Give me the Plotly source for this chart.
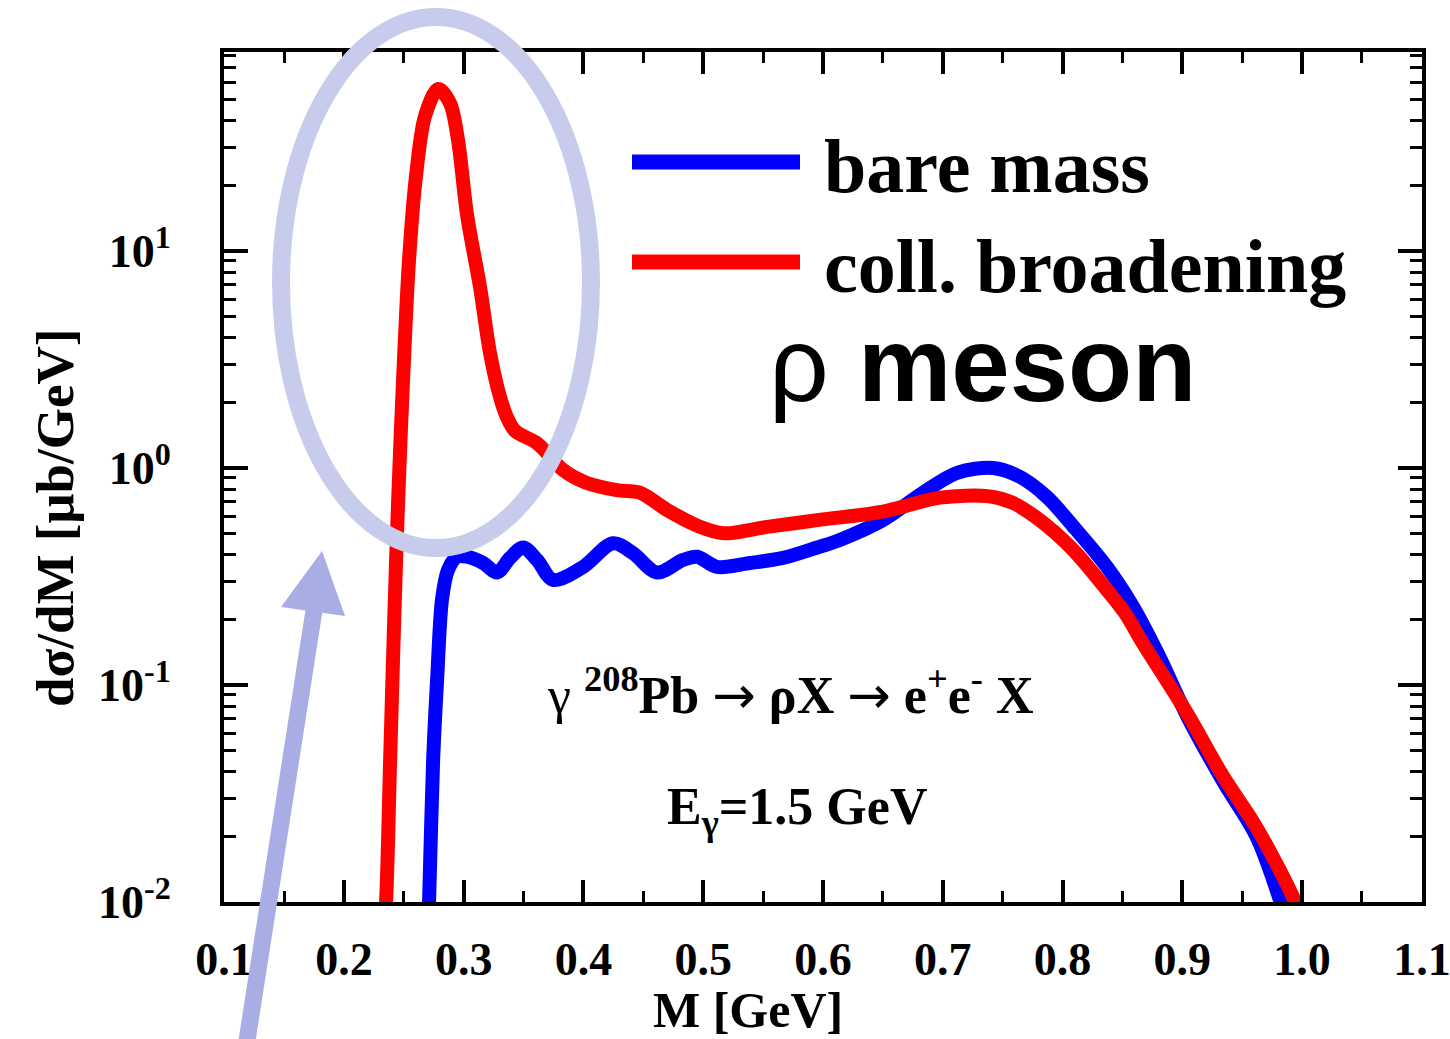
import plotly.graph_objects as go

# Invariant-mass spectra of the rho meson (dsigma/dM in microbarn/GeV)
mass_bare = [0.2700, 0.2711, 0.2745, 0.2778, 0.2820, 0.2870, 0.2945, 0.3028, 0.3162,
             0.3279, 0.3387, 0.3496, 0.3613, 0.3746, 0.3997, 0.4247, 0.4414, 0.4614,
             0.4831, 0.4948, 0.5115, 0.5390, 0.5666, 0.5952, 0.6140, 0.6500, 0.6836,
             0.7120, 0.7420, 0.7645, 0.7870, 0.8087, 0.8370, 0.8588, 0.8800, 0.9040,
             0.9340, 0.9620, 0.9820, 0.9900]
dsig_bare = [0.007, 0.010, 0.045, 0.105, 0.25, 0.34, 0.39, 0.39, 0.365,
             0.33, 0.385, 0.43, 0.377, 0.305, 0.35, 0.45, 0.405, 0.33,
             0.377, 0.39, 0.35, 0.365, 0.385, 0.43, 0.466, 0.575, 0.77,
             0.95, 1.0, 0.91, 0.735, 0.54, 0.35, 0.23, 0.138, 0.072,
             0.036, 0.020, 0.010, 0.007]

mass_coll = [0.2330, 0.2352, 0.2386, 0.2420, 0.2453, 0.2494, 0.2544, 0.2603, 0.2678,
             0.2787, 0.2886, 0.2953, 0.3028, 0.3137, 0.3220, 0.3304, 0.3360, 0.3430,
             0.3613, 0.3829, 0.4013, 0.4280, 0.4470, 0.4700, 0.4975, 0.5167, 0.5534,
             0.5952, 0.6500, 0.6977, 0.7390, 0.7586, 0.7810, 0.8087, 0.8371, 0.8520,
             0.8670, 0.9040, 0.9340, 0.9620, 0.9925, 1.0000]
dsig_coll = [0.007, 0.010, 0.045, 0.20, 0.71, 2.55, 9.1, 22.4, 42.0,
             55.8, 48.0, 32.4, 14.7, 6.8, 3.39, 2.12, 1.72, 1.48,
             1.30, 0.98, 0.86, 0.79, 0.77, 0.64, 0.535, 0.50, 0.535,
             0.575, 0.63, 0.73, 0.74, 0.69, 0.575, 0.42, 0.274, 0.215,
             0.156, 0.074, 0.038, 0.022, 0.0105, 0.008]

x_tick_vals = [0.1, 0.2, 0.3, 0.4, 0.5, 0.6, 0.7, 0.8, 0.9, 1.0, 1.1]
x_tick_text = ["0.1", "0.2", "0.3", "0.4", "0.5", "0.6", "0.7", "0.8", "0.9", "1.0", "1.1"]
y_tick_vals = [0.01, 0.1, 1, 10]
y_tick_text = ["10<sup>-2</sup>", "10<sup>-1</sup>", "10<sup>0</sup>", "10<sup>1</sup>"]

W, H = 1450, 1039
L, R, T, B = 224, 28, 52, 137
PW, PH = W - L - R, H - T - B


def px(xp):
    return (xp - L) / PW


def py(yp):
    return (H - B - yp) / PH


SERIF = "Liberation Serif"
SANS = "Liberation Sans"
BLUE = "#0000ff"
RED = "#ff0000"
LAV_RING = "rgb(200,204,236)"
LAV_ARROW = "rgb(168,174,228)"

fig = go.Figure()
fig.add_trace(go.Scatter(x=mass_bare, y=dsig_bare, mode="lines", name="bare mass",
                         line=dict(color=BLUE, width=14, shape="spline", smoothing=0.9)))
fig.add_trace(go.Scatter(x=mass_coll, y=dsig_coll, mode="lines", name="coll. broadening",
                         line=dict(color=RED, width=14, shape="spline", smoothing=0.9)))

minor_y = [m * 10 ** e for e in (-2, -1, 0, 1) for m in range(2, 10)]

axis_common = dict(showline=True, linewidth=4, linecolor="black", mirror="allticks",
                   ticks="inside", tickwidth=4, tickcolor="black", showgrid=False,
                   zeroline=False, ticklabeloverflow="allow", automargin=False)

fig.update_xaxes(range=[0.0999, 1.1001], tickmode="array", tickvals=x_tick_vals,
                 ticktext=x_tick_text, ticklen=22, ticklabelstandoff=14,
                 tickfont=dict(family=SERIF, size=46, color="black", weight="bold"),
                 minor=dict(tickmode="array",
                            tickvals=[0.15, 0.25, 0.35, 0.45, 0.55, 0.65, 0.75, 0.85, 0.95, 1.05],
                            ticks="inside", ticklen=11, tickwidth=3, tickcolor="black"),
                 **axis_common)
fig.update_yaxes(type="log", range=[-2, 1.917], tickmode="array", tickvals=y_tick_vals,
                 ticktext=y_tick_text, ticklen=24, ticklabelstandoff=40,
                 tickfont=dict(family=SERIF, size=46, color="black", weight="bold"),
                 minor=dict(tickmode="array", tickvals=minor_y, ticks="inside",
                            ticklen=12, tickwidth=3, tickcolor="black"),
                 **axis_common)

shapes = [
    # legend samples
    dict(type="line", xref="paper", yref="paper", x0=px(632), x1=px(800), y0=py(162), y1=py(162),
         line=dict(color=BLUE, width=15)),
    dict(type="line", xref="paper", yref="paper", x0=px(632), x1=px(800), y0=py(262), y1=py(262),
         line=dict(color=RED, width=15)),
    # highlighting ring around the peak
    dict(type="circle", xref="paper", yref="paper", x0=px(281), x1=px(591), y0=py(548), y1=py(17),
         line=dict(color=LAV_RING, width=18), layer="above"),
    # pointer arrow shaft and head
    dict(type="line", xref="paper", yref="paper", x0=px(244), y0=py(1060), x1=px(315), y1=py(604),
         line=dict(color=LAV_ARROW, width=17), layer="above"),
    dict(type="path", xref="paper", yref="paper",
         path=f"M {px(322)},{py(551)} L {px(281)},{py(607)} L {px(345)},{py(616)} Z",
         fillcolor=LAV_ARROW, line=dict(width=0), layer="above"),
]

ARROW = '<span style="font-family:DejaVu Sans;font-weight:normal">→</span>'

annotations = [
    dict(text="bare mass", x=px(822), y=py(166), xanchor="left", yanchor="middle",
         font=dict(family=SERIF, size=76, color="black", weight="bold")),
    dict(text="coll. broadening", x=px(822), y=py(266), xanchor="left", yanchor="middle",
         font=dict(family=SERIF, size=76, color="black", weight="bold")),
    dict(text="ρ <b>meson</b>", x=px(982), y=py(364), xanchor="center", yanchor="middle",
         font=dict(family=SANS, size=105, color="black")),
    dict(text=f"γ <b><sup>208</sup>Pb</b> {ARROW} <b>ρX</b> {ARROW} <b>e<sup>+</sup>e<sup>-</sup> X</b>",
         x=px(790), y=py(692), xanchor="center", yanchor="middle",
         font=dict(family=SERIF, size=52, color="black")),
    dict(text="<b>E<sub>γ</sub>=1.5 GeV</b>", x=px(797), y=py(810), xanchor="center", yanchor="middle",
         font=dict(family=SERIF, size=52, color="black")),
    dict(text="M [GeV]", x=px(748), y=py(1010), xanchor="center", yanchor="middle",
         font=dict(family=SERIF, size=50, color="black", weight="bold")),
    dict(text="dσ/dM [μb/GeV]", x=px(55), y=py(518), xanchor="center", yanchor="middle",
         textangle=-90, font=dict(family=SERIF, size=53, color="black", weight="bold")),
]
for a in annotations:
    a.update(xref="paper", yref="paper", showarrow=False)

fig.update_layout(width=W, height=H, margin=dict(l=L, r=R, t=T, b=B, autoexpand=False),
                  plot_bgcolor="white", paper_bgcolor="white", showlegend=False,
                  shapes=shapes, annotations=annotations)

fig.write_html("out.html")
